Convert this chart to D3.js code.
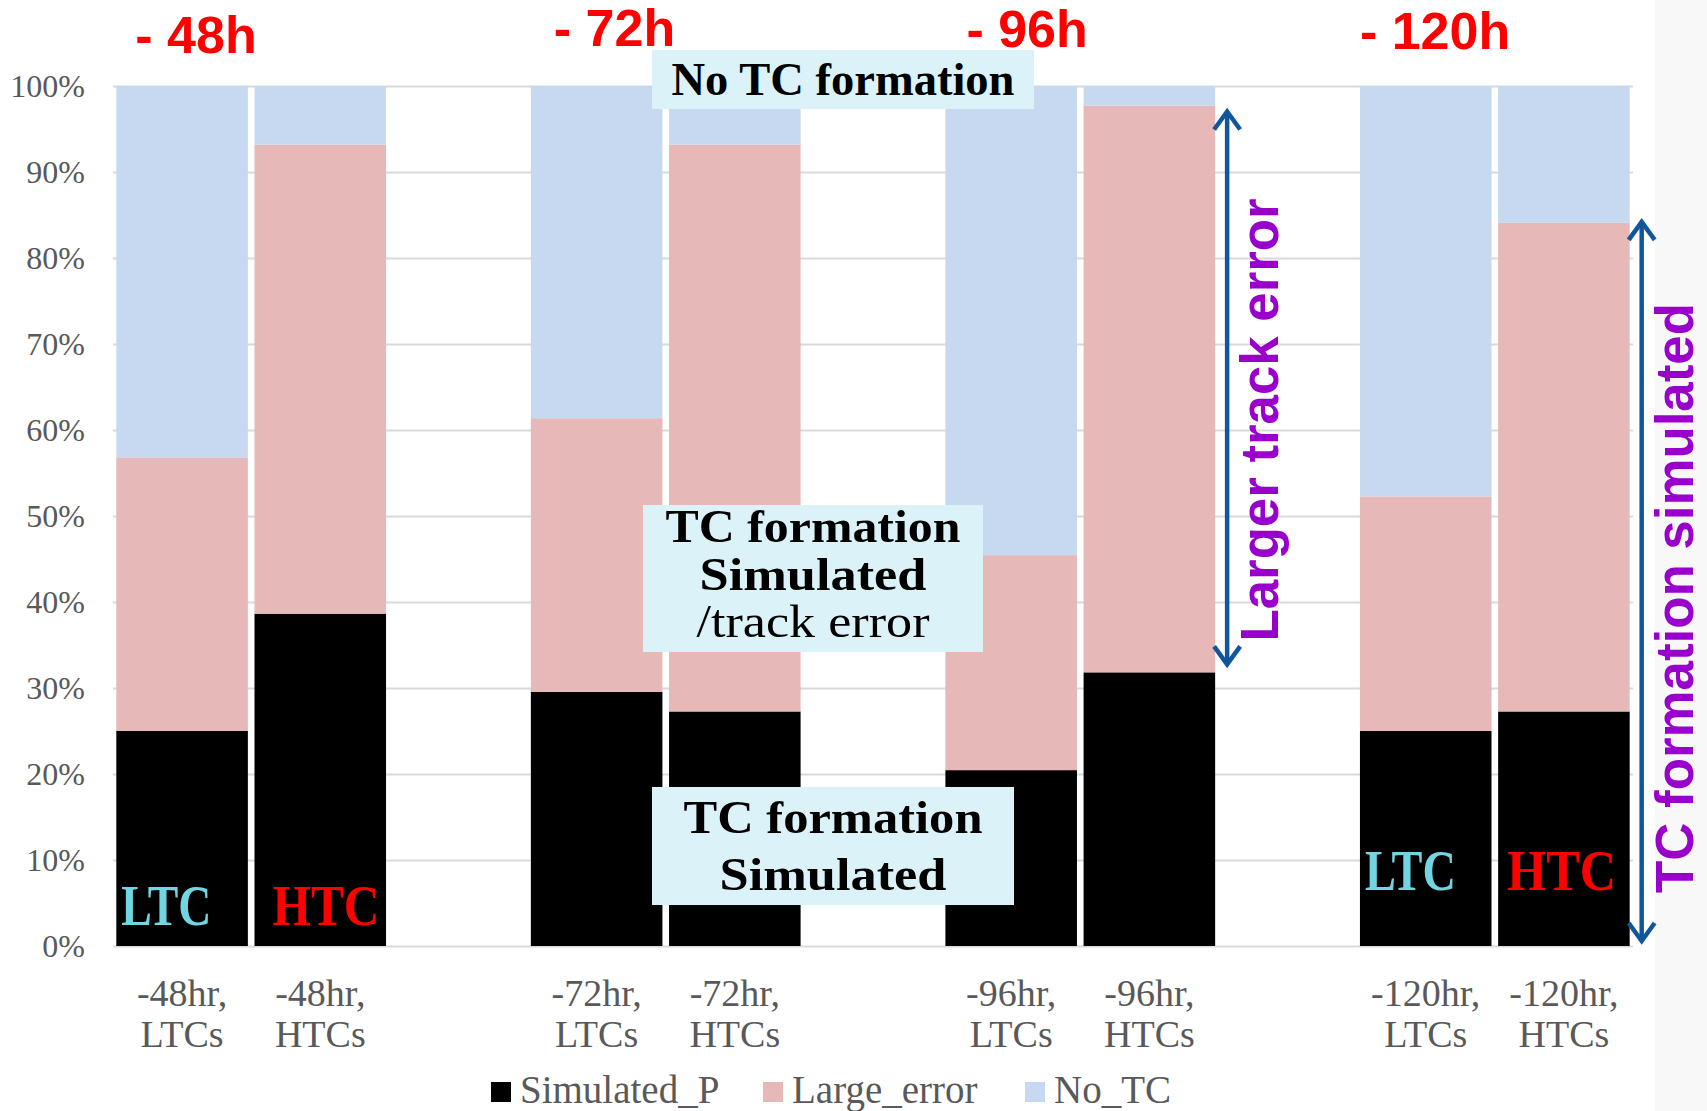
<!DOCTYPE html>
<html>
<head>
<meta charset="utf-8">
<script src="https://cdn.jsdelivr.net/npm/d3@7"></script>
<style>
  html, body { margin: 0; padding: 0; background: #ffffff; }
  svg { display: block; }
</style>
</head>
<body>
<svg id="chart" width="1707" height="1111"></svg>
<script>
// Categories: lead time and TC group; empty entries are spacer slots between lead-time groups
const categories = ["-48hr,|LTCs", "-48hr,|HTCs", "", "-72hr,|LTCs", "-72hr,|HTCs", "",
                    "-96hr,|LTCs", "-96hr,|HTCs", "", "-120hr,|LTCs", "-120hr,|HTCs"];

// Share of cases (%) in each outcome class
const simulatedP = [25.00, 38.64, null, 29.55, 27.27, null, 20.45, 31.82, null, 25.00, 27.27];
const largeError = [31.82, 54.55, null, 31.82, 65.91, null, 25.00, 65.91, null, 27.27, 56.82];
const noTC       = [43.18,  6.81, null, 38.63,  6.82, null, 54.55,  2.27, null, 47.73, 15.91];

const seriesNames = ["Simulated_P", "Large_error", "No_TC"];
const yTicks = [0, 10, 20, 30, 40, 50, 60, 70, 80, 90, 100];

// Lead-time headings above each group, attached to the group's first category
const leadLabels = ["- 48h", "- 72h", "- 96h", "- 120h"];
const leadCats = [0, 3, 6, 9];

const colors = { Simulated_P: "#000000", Large_error: "#E6B8B7", No_TC: "#C6D9F0" };

const svg = d3.select("#chart");
const W = 1707, H = 1111;
const plot = { left: 113, right: 1633, top: 86, bottom: 946 };

// faint textured strip along the right edge of the slide
svg.append("rect").attr("x", 1655).attr("y", 0).attr("width", W - 1655).attr("height", H)
  .attr("fill", "#f8f8f8");

const x = d3.scaleBand()
  .domain(d3.range(categories.length))
  .range([plot.left, plot.right])
  .paddingInner(0.048)
  .paddingOuter(0.024);

const y = d3.scaleLinear().domain([0, 100]).range([plot.bottom, plot.top]);

// Y axis with gridlines
const yAxis = svg.append("g")
  .attr("transform", `translate(${plot.left},0)`)
  .call(d3.axisLeft(y).tickValues(yTicks).tickFormat(d => d + "%")
    .tickSizeInner(-(plot.right - plot.left)).tickSizeOuter(0).tickPadding(28));
yAxis.select(".domain").remove();
yAxis.selectAll(".tick line").attr("stroke", "#d9d9d9").attr("stroke-width", 2);
yAxis.selectAll(".tick text")
  .attr("fill", "#595959")
  .style("font-family", "'Liberation Serif', 'Times New Roman', serif")
  .style("font-size", "32px");

// Stacked bars
const rows = categories.map((c, i) => ({
  i, Simulated_P: simulatedP[i], Large_error: largeError[i], No_TC: noTC[i]
})).filter(r => r.Simulated_P !== null);

const stack = d3.stack().keys(seriesNames)(rows);

svg.append("g").selectAll("g")
  .data(stack).join("g")
  .attr("fill", d => colors[d.key])
  .selectAll("rect")
  .data(d => d).join("rect")
  .attr("x", d => x(d.data.i))
  .attr("width", x.bandwidth())
  .attr("y", d => y(Math.min(d[1], 100)))
  .attr("height", d => y(d[0]) - y(Math.min(d[1], 100)));

// X axis category labels (two lines)
const xAxis = svg.append("g")
  .attr("transform", `translate(0,${plot.bottom})`)
  .call(d3.axisBottom(x).tickSize(0).tickFormat(""));
xAxis.select(".domain").remove();
xAxis.selectAll(".tick text").remove();
xAxis.selectAll(".tick").each(function (d) {
  const label = categories[d];
  if (!label) return;
  const parts = label.split("|");
  const t = d3.select(this).append("text")
    .attr("fill", "#595959")
    .attr("text-anchor", "middle")
    .style("font-family", "'Liberation Serif', 'Times New Roman', serif")
    .style("font-size", "38px");
  t.append("tspan").attr("x", 0).attr("y", 60).text(parts[0]);
  t.append("tspan").attr("x", 0).attr("y", 101).text(parts[1]);
});

// Legend
const legendX = [491, 763, 1025];
const legend = svg.append("g");
seriesNames.forEach((name, k) => {
  legend.append("rect").attr("x", legendX[k]).attr("y", 1082).attr("width", 20).attr("height", 20)
    .attr("fill", colors[name]);
  legend.append("text").attr("x", legendX[k] + 29).attr("y", 1103)
    .attr("fill", "#595959")
    .style("font-family", "'Liberation Serif', 'Times New Roman', serif")
    .style("font-size", "39px")
    .text(name);
});

// Lead-time headings
const leadOffset = [19, 23, 21, 0];
const leadBase = [53, 46, 47, 49];
leadLabels.forEach((lab, k) => {
  svg.append("text")
    .attr("x", x(leadCats[k]) + leadOffset[k])
    .attr("y", leadBase[k])
    .attr("fill", "#ff0000")
    .style("font-family", "'Liberation Sans', Arial, sans-serif")
    .style("font-weight", "bold")
    .style("font-size", "52px")
    .text(lab);
});

// LTC / HTC tags inside the first and last groups
const serifBold = "'Liberation Serif', 'Times New Roman', serif";
const tags = [
  { cat: 0, text: "LTC", color: "#72D5E2", dx: 5, base: 925, len: 90 },
  { cat: 1, text: "HTC", color: "#ff0000", dx: 18, base: 925, len: 107 },
  { cat: 9, text: "LTC", color: "#72D5E2", dx: 5, base: 890, len: 91 },
  { cat: 10, text: "HTC", color: "#ff0000", dx: 9, base: 890, len: 109 }
];
tags.forEach(t => {
  svg.append("text")
    .attr("x", x(t.cat) + t.dx).attr("y", t.base)
    .attr("fill", t.color)
    .attr("textLength", t.len).attr("lengthAdjust", "spacingAndGlyphs")
    .style("font-family", serifBold).style("font-weight", "bold").style("font-size", "56px")
    .text(t.text);
});

// Outcome boxes
function box(rx, ry, rw, rh, lines) {
  const g = svg.append("g");
  g.append("rect").attr("x", rx).attr("y", ry).attr("width", rw).attr("height", rh).attr("fill", "#DBF3F8");
  lines.forEach(l => {
    g.append("text")
      .attr("x", rx + rw / 2).attr("y", l.base)
      .attr("text-anchor", "middle")
      .attr("fill", "#000")
      .attr("textLength", l.len).attr("lengthAdjust", "spacingAndGlyphs")
      .style("font-family", serifBold)
      .style("font-weight", l.bold ? "bold" : "normal")
      .style("font-size", "47px")
      .text(l.text);
  });
}
box(652, 50, 382, 59, [{ text: "No TC formation", base: 95, len: 343, bold: true }]);
box(643, 505, 340, 147, [
  { text: "TC formation", base: 542, len: 295, bold: true },
  { text: "Simulated", base: 590, len: 227, bold: true },
  { text: "/track error", base: 637, len: 233, bold: false }
]);
box(652, 787, 362, 118, [
  { text: "TC formation", base: 833, len: 299, bold: true },
  { text: "Simulated", base: 890, len: 227, bold: true }
]);

// Double-headed arrows
const arrowColor = "#11559A";
function arrow(ax, y1, y2) {
  const g = svg.append("g").attr("stroke", arrowColor).attr("stroke-width", 4.5).attr("fill", "none");
  g.append("line").attr("x1", ax).attr("x2", ax).attr("y1", y1 + 2).attr("y2", y2 - 2);
  g.append("path").attr("d", `M${ax - 13},${y1 + 20}L${ax},${y1 + 2}L${ax + 13},${y1 + 20}`);
  g.append("path").attr("d", `M${ax - 13},${y2 - 20}L${ax},${y2 - 2}L${ax + 13},${y2 - 20}`);
}
// span of the large-error segment for -96hr HTCs
arrow(x(7) + x.bandwidth() + 12, y(simulatedP[7] + largeError[7]) + 4, y(simulatedP[7]) - 6);
// span of all simulated formation for -120hr HTCs
arrow(x(10) + x.bandwidth() + 12, y(simulatedP[10] + largeError[10]) - 3, y(0) - 3);

// Rotated purple notes
function vtext(tx, ty, str, len) {
  svg.append("text")
    .attr("transform", `translate(${tx},${ty}) rotate(-90)`)
    .attr("text-anchor", "middle")
    .attr("fill", "#9900CC")
    .attr("textLength", len).attr("lengthAdjust", "spacingAndGlyphs")
    .style("font-family", "'Liberation Sans', Arial, sans-serif")
    .style("font-weight", "bold")
    .style("font-size", "53px")
    .text(str);
}
vtext(1278, 420, "Larger track error", 443);
vtext(1693, 598, "TC formation simulated", 590);
</script>
</body>
</html>
